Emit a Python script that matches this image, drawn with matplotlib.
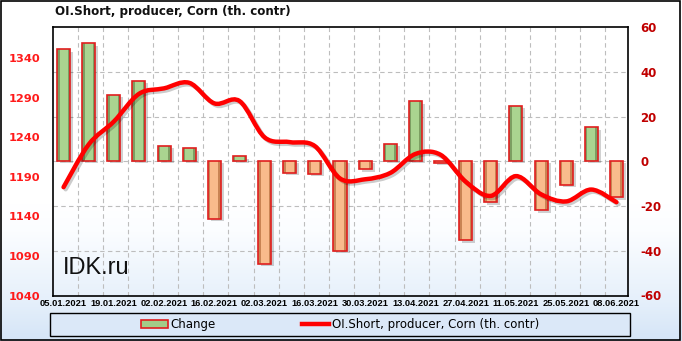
import numpy as np
import matplotlib
matplotlib.use('Agg')
import matplotlib.pyplot as plt
from matplotlib.path import Path
from matplotlib.patches import PathPatch, Rectangle, Patch
from matplotlib.lines import Line2D
import matplotlib.patheffects as pe
from matplotlib.colors import LinearSegmentedColormap

# ---------------- data ----------------
dates = ['05.01.2021', '12.01.2021', '19.01.2021', '26.01.2021', '02.02.2021',
         '09.02.2021', '16.02.2021', '23.02.2021', '02.03.2021', '09.03.2021',
         '16.03.2021', '23.03.2021', '30.03.2021', '06.04.2021', '13.04.2021',
         '20.04.2021', '27.04.2021', '04.05.2021', '11.05.2021', '18.05.2021',
         '25.05.2021', '01.06.2021', '08.06.2021']
change = [50, 52.7, 29.5, 35.9, 6.8, 5.7, -25.6, 2.2, -46, -5.3, -5.8, -40,
          -3.6, 7.9, 26.8, -0.6, -35.4, -18.4, 24.6, -22, -10.4, 15.1, -16.2]
oi_short = [1177, 1231, 1260, 1295, 1302, 1309, 1283, 1286, 1240, 1234, 1229,
            1188, 1187, 1195, 1219, 1218, 1184, 1166, 1191, 1168, 1159, 1174, 1158]
left_ticks = [1040, 1090, 1140, 1190, 1240, 1290, 1340]
right_ticks = [-60, -40, -20, 0, 20, 40, 60]
title = 'OI.Short, producer, Corn (th. contr)'
series_change = 'Change'
series_line = 'OI.Short, producer, Corn (th. contr)'

W, H = 682, 341
fig = plt.figure(figsize=(W / 100, H / 100), dpi=100)

# figure background gradient
bg = fig.add_axes([0, 0, 1, 1], zorder=-10)
grad = np.linspace(0, 1, 256).reshape(-1, 1)
cmap_bg = LinearSegmentedColormap.from_list(
    'bg', [(0, '#d5e5f7'), (0.12, '#e6f0fb'), (0.32, '#fbfdff'), (0.4, '#ffffff'), (1, '#ffffff')])
bg.imshow(grad, aspect='auto', cmap=cmap_bg, origin='lower', extent=[0, 1, 0, 1])
bg.set_xlim(0, 1); bg.set_ylim(0, 1)
bg.axis('off')
# outer border
fig.patches.append(Rectangle((0.002, 0.004), 0.995, 0.992, transform=fig.transFigure,
                             fill=False, edgecolor='black', linewidth=1.2))

# main axes (bars, right scale)
ax = fig.add_axes([53 / W, 1 - 295.5 / H, (628 - 53) / W, (295.5 - 27) / H])
ax.patch.set_alpha(0)
axl = ax.twinx()   # line axis, left scale
x = np.arange(len(dates))
ax.set_xlim(-0.42, len(dates) - 1 + 0.46)
ax.set_ylim(right_ticks[0], right_ticks[-1])

# grid
for gx in x[:-1] + 0.56:
    ax.axvline(gx, color='#bdbdbd', linestyle=(0, (4, 3)), linewidth=0.8, zorder=0)
for gy in right_ticks[1:-1]:
    ax.axhline(gy, color='#bdbdbd', linestyle=(0, (4, 3)), linewidth=0.8, zorder=0)

bw = 0.52
vals = np.array(change)
pos = vals >= 0
# shadow
ax.bar(x + 0.12, vals, width=bw, bottom=-1.0,
       color='#000000', alpha=0.18, zorder=1, linewidth=0)
# outer dark sides
ax.bar(x[pos], vals[pos], width=bw, color='#7c9e62', zorder=2, linewidth=0)
ax.bar(x[~pos], vals[~pos], width=bw, color='#c98454', zorder=2, linewidth=0)
# lighter centre
ax.bar(x[pos], vals[pos], width=bw * 0.62, color='#aad490', zorder=3, linewidth=0)
ax.bar(x[~pos], vals[~pos], width=bw * 0.62, color='#f9bb8c', zorder=3, linewidth=0)
# red outline
ax.bar(x, vals, width=bw, fill=False, edgecolor='#e01e1e', linewidth=1.2, zorder=4)

ax.set_yticks(right_ticks)
ax.set_yticklabels([str(t) for t in right_ticks])
ax.set_xticks(x[::2])
ax.set_xticklabels(dates[::2], fontsize=6.7, fontweight='bold', family='Liberation Sans')
ax.tick_params(axis='x', length=0, pad=2.5)
for s in ax.spines.values():
    s.set_linewidth(1.2)
    s.set_color('black')

axl.set_ylim(1040, 1379.6)
axl.set_yticks(left_ticks)
axl.set_yticklabels([str(t) for t in left_ticks])
for s in axl.spines.values():
    s.set_visible(False)

# put scales on their sides (after twinx)
ax.yaxis.tick_right()
ax.yaxis.set_label_position('right')
axl.yaxis.tick_left()
ax.tick_params(axis='y', which='both', left=False, right=False, labelleft=False,
               labelright=True, length=0, pad=9, labelsize=8.5, labelcolor='#c00000')
axl.tick_params(axis='y', which='both', left=False, right=False, labelleft=True,
                labelright=False, length=0, pad=9, labelsize=8.2, labelcolor='#ff1a1a')
for lab in ax.get_yticklabels() + axl.get_yticklabels():
    lab.set_fontweight('bold')

# smooth line through data points (cubic Bezier, Catmull-Rom control points)
px = x.astype(float)
py = np.array(oi_short, dtype=float)
verts = [(px[0], py[0])]
codes = [Path.MOVETO]
n = len(px)
for i in range(n - 1):
    p0 = (px[max(i - 1, 0)], py[max(i - 1, 0)])
    p1 = (px[i], py[i])
    p2 = (px[i + 1], py[i + 1])
    p3 = (px[min(i + 2, n - 1)], py[min(i + 2, n - 1)])
    c1 = (p1[0] + (p2[0] - p0[0]) / 6, p1[1] + (p2[1] - p0[1]) / 6)
    c2 = (p2[0] - (p3[0] - p1[0]) / 6, p2[1] - (p3[1] - p1[1]) / 6)
    verts += [c1, c2, p2]
    codes += [Path.CURVE4] * 3
path = Path(verts, codes)
patch = PathPatch(path, facecolor='none', edgecolor='#ff0000', linewidth=3.2,
                  capstyle='round', zorder=5,
                  path_effects=[pe.SimpleLineShadow(offset=(1.5, -1.5), alpha=0.2),
                                pe.Normal()])
axl.add_patch(patch)

# watermark
ax.text(0.018, 0.06, 'IDK.ru', transform=ax.transAxes, fontsize=17,
        family='Liberation Sans', color='#111111', ha='left', va='bottom', zorder=6)

# title
fig.text(55 / W, 1 - 12 / H, title, fontsize=8.6, fontweight='bold',
         ha='left', va='center', color='#111111')

# legend
lx0, ly0, lx1, ly1 = 50 / W, 1 - 336 / H, 630 / W, 1 - 312.7 / H
fig.patches.append(Rectangle((lx0, ly0), lx1 - lx0, ly1 - ly0, transform=fig.transFigure,
                             facecolor='#dbe8f8', edgecolor='black', linewidth=1.0))
h1 = Patch(facecolor='#a3cc88', edgecolor='#e01e1e', linewidth=1.2)
h2 = Line2D([0], [0], color='#ff0000', linewidth=3.2)
leg = fig.legend([h1, h2], [series_change, series_line], loc='center',
                 bbox_to_anchor=(lx0, ly0, lx1 - lx0, ly1 - ly0), ncol=2,
                 frameon=False, fontsize=8.5, handlelength=2.3, handleheight=0.7,
                 columnspacing=7.3, handletextpad=0.2)

fig.savefig('out.png', dpi=100)
